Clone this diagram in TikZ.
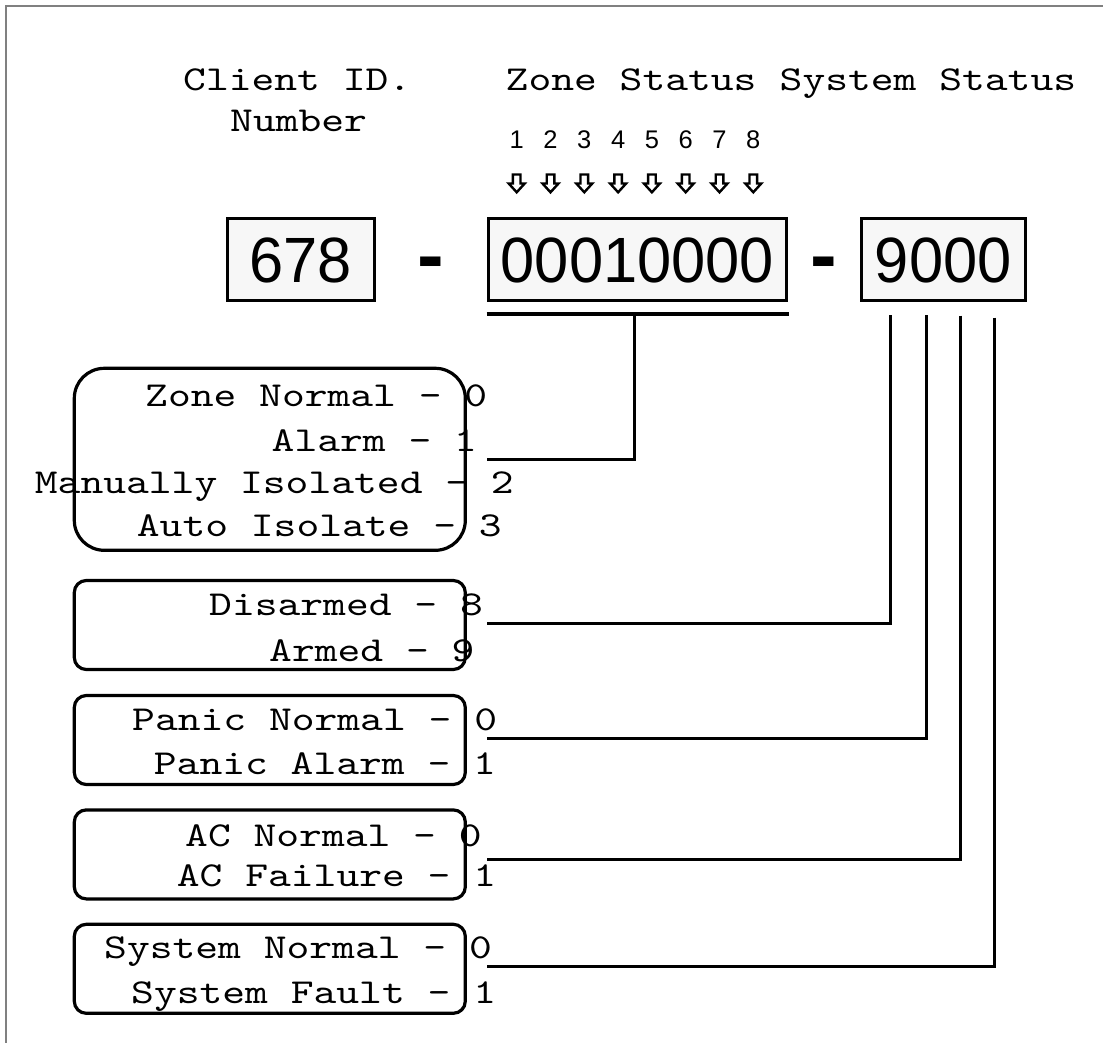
\documentclass[tikz,border=0pt]{standalone}
\usepackage{fontspec}
\newfontfamily\courfont{lmmono10-regular.otf}[FakeStretch=1.241]
\newfontfamily\arifont{Liberation Sans}
\newfontfamily\bigdigfont{Liberation Sans}[FakeStretch=0.96]
\begin{document}
\begin{tikzpicture}[x=1pt,y=-1pt,
  lbl/.style={font=\courfont\fontsize{35}{35}\selectfont, inner sep=0pt, anchor=base west},
  digbox/.style={draw, line width=2.8pt, fill=black!3, inner sep=0pt,
    font=\bigdigfont\fontsize{64}{64}\selectfont, text height=45.8pt, text depth=0pt, minimum height=82pt},
  listbox/.style={draw, line width=3.2pt, rounded corners=12pt, minimum width=391pt, minimum height=89pt, inner sep=0pt},
  wire/.style={line width=3pt},
  zonenum/.style={font=\arifont\fontsize{25.5}{25.5}\selectfont, inner sep=0pt, anchor=base},
  sepdash/.style={font=\arifont\bfseries\fontsize{80}{80}\selectfont, inner sep=0pt, anchor=base},
  hollow/.style={line width=2.4pt, line join=miter}
]
\useasboundingbox (0,0) rectangle (1103,1043);
% partial frame
\draw[black!50, line width=1.5pt] (6,1043) -- (6,6) -- (1103,6);

% headings
\node[lbl] (hclient) at (183,90.7) {Client ID.};
\node[lbl] (hnumber) at (230,131.7) {Number};
\node[lbl] (hzone) at (505.5,90.7) {Zone Status};
\node[lbl] (hsys) at (779.5,90.7) {System Status};

% zone numbers and arrows
\foreach \i/\xx in {1/516.7,2/550.5,3/584.3,4/618.1,5/651.9,6/685.7,7/719.5,8/753.3}{
  \node[zonenum] (zn\i) at (\xx,148.3) {\i};
  \draw[hollow] (\xx-3.8,174.5) -- (\xx+3.8,174.5) -- (\xx+3.8,183.5) -- (\xx+8,183.5)
     -- (\xx,192.3) -- (\xx-8,183.5) -- (\xx-3.8,183.5) -- cycle;
}

% main code boxes
\node[digbox, minimum width=147pt] (cid) at (300.7,259.6) {678};
\node[sepdash] (dash1) at (430.4,282) {-};
\node[digbox, minimum width=298pt] (zone) at (637.5,259.6) {00010000};
\node[sepdash] (dash2) at (823.5,282) {-};
\node[digbox, minimum width=164pt] (sys) at (943.3,259.6) {9000};

% list boxes
\node[listbox, rounded corners=30pt, minimum height=182pt] (zonebox) at (269.8,459.3) {};
\node[listbox] (armbox) at (269.8,625) {};
\node[listbox] (panicbox) at (269.8,740) {};
\node[listbox] (acbox) at (269.8,854.4) {};
\node[listbox] (faultbox) at (269.8,968.8) {};

% list texts
\node[lbl] (t1) at (145,406.7) {Zone Normal - 0};
\node[lbl] (t2) at (271.5,451.7) {Alarm - 1};
\node[lbl] (t3) at (34.7,493.3) {Manually Isolated - 2};
\node[lbl] (t4) at (136.7,536.7) {Auto Isolate - 3};
\node[lbl] (t5) at (209,615) {Disarmed - 8};
\node[lbl] (t6) at (269,661.7) {Armed - 9};
\node[lbl] (t7) at (132,730) {Panic Normal - 0};
\node[lbl] (t8) at (153.7,774) {Panic Alarm - 1};
\node[lbl] (t9) at (185,846.7) {AC Normal - 0};
\node[lbl] (t10) at (176.7,886) {AC Failure - 1};
\node[lbl] (t11) at (104,958.3) {System Normal - 0};
\node[lbl] (t12) at (131,1003.3) {System Fault - 1};

% connectors
\coordinate (ulL) at (486.5,314);
\coordinate (ulR) at (788.5,314);
\coordinate (ztap) at (634,314);
\coordinate (zend) at (486.7,459.5);
\draw[line width=3.8pt] (ulL) -- (ulR);
\draw[wire] (ztap) |- (zend);

\coordinate (s1) at (890.7,315);
\coordinate (s2) at (926.7,315);
\coordinate (s3) at (960,315.5);
\coordinate (s4) at (994,317.5);
\coordinate (e1) at (487,623.3);
\coordinate (e2) at (487,738.3);
\coordinate (e3) at (487,859.3);
\coordinate (e4) at (487,966.7);
\draw[wire] (s1) |- (e1);
\draw[wire] (s2) |- (e2);
\draw[wire] (s3) |- (e3);
\draw[wire] (s4) |- (e4);
\end{tikzpicture}
\end{document}
